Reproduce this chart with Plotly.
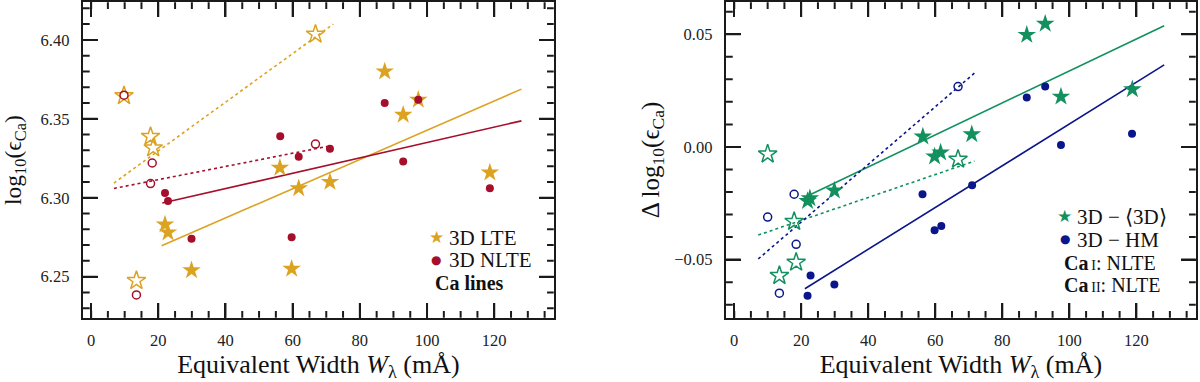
import plotly.graph_objects as go
from plotly.subplots import make_subplots

# ---------------- data ----------------
# Left panel: absolute abundances
lte_fill_x = [22.0, 22.9, 29.9, 56.2, 61.8, 59.7, 71.1, 87.4, 92.9, 97.4, 118.7]
lte_fill_y = [6.283, 6.278, 6.254, 6.319, 6.306, 6.255, 6.310, 6.380, 6.3525, 6.362, 6.316]
lte_open_x = [9.8, 17.7, 18.5, 13.5, 66.8]
lte_open_y = [6.3646, 6.3388, 6.3315, 6.2475, 6.4036]

nlte_fill_x = [22.0, 22.9, 29.9, 56.3, 61.8, 59.7, 71.1, 87.4, 92.9, 97.4, 118.7]
nlte_fill_y = [6.303, 6.298, 6.274, 6.339, 6.326, 6.275, 6.331, 6.360, 6.323, 6.362, 6.306]
nlte_open_x = [9.8, 18.2, 17.7, 13.5, 66.8]
nlte_open_y = [6.365, 6.322, 6.309, 6.2384, 6.334]

# fit lines (endpoints)
lte_fit_x = [21.0, 128.1]
lte_fit_y = [6.2696, 6.3688]
nlte_fit_x = [21.2, 128.1]
nlte_fit_y = [6.2966, 6.3487]
lte_dfit_x = [6.8, 72.1]
lte_dfit_y = [6.3093, 6.410]
nlte_dfit_x = [6.8, 70.3]
nlte_dfit_y = [6.3059, 6.3325]

# Right panel: abundance differences
d3d_fill_x = [21.9, 22.6, 29.9, 56.3, 59.8, 61.6, 70.9, 87.3, 92.8, 97.5, 118.8]
d3d_fill_y = [-0.0240, -0.0228, -0.0194, 0.0046, -0.0043, -0.0025, 0.0056, 0.0497, 0.0546, 0.0223, 0.0256]
d3d_open_x = [10.0, 17.9, 18.5, 13.5, 66.8]
d3d_open_y = [-0.0032, -0.0331, -0.0512, -0.0571, -0.0055]

dhm_fill_x = [21.9, 22.8, 29.9, 56.2, 59.8, 61.8, 71.0, 87.3, 92.8, 97.5, 118.7]
dhm_fill_y = [-0.0660, -0.0570, -0.0610, -0.0210, -0.0370, -0.0351, -0.0170, 0.0219, 0.0268, 0.0009, 0.0059]
dhm_open_x = [10.0, 17.9, 18.5, 13.5, 66.8]
dhm_open_y = [-0.0311, -0.0210, -0.0432, -0.0649, 0.0268]

d3d_fit_x = [21.4, 128.3]
d3d_fit_y = [-0.0221, 0.0538]
dhm_fit_x = [21.1, 128.3]
dhm_fit_y = [-0.0629, 0.0364]
d3d_dfit_x = [7.2, 71.7]
d3d_dfit_y = [-0.0391, -0.0063]
dhm_dfit_x = [7.2, 72.2]
dhm_dfit_y = [-0.0497, 0.0334]

xticks = [0, 20, 40, 60, 80, 100, 120]
x_minor = [0, 5, 10, 15, 25, 30, 35, 45, 50, 55, 65, 70, 75, 85, 90, 95,
           105, 110, 115, 125, 130, 135]
left_yticks = [6.25, 6.30, 6.35, 6.40]
left_yticklabels = ["6.25", "6.30", "6.35", "6.40"]
left_y_minor = [6.23, 6.24, 6.26, 6.27, 6.28, 6.29, 6.31, 6.32, 6.33, 6.34,
                6.36, 6.37, 6.38, 6.39, 6.41, 6.42]
right_yticks = [-0.05, 0.00, 0.05]
right_yticklabels = ["\u22120.05", "0.00", "0.05"]
right_y_minor = [-0.07, -0.06, -0.04, -0.03, -0.02, -0.01, 0.01, 0.02, 0.03, 0.04, 0.06]

# ---------------- style ----------------
GOLD = "#DCA323"
RED = "#A60F2C"
GREEN = "#12915F"
NAVY = "#0B168A"
FONT = "Liberation Serif"
AX = "#1a1a1a"
STAR = 14
DOT = 8
PLOT_H = 316.0
PANEL_W = 471.0
MAJ = 15
MIN = 7
XR = [-2.5, 137.8]
LEFT_YR = [6.2238, 6.4240]
RIGHT_YR = [-0.0759, 0.0643]

fig = make_subplots(rows=1, cols=2)


def add_ticks(col, yr, majors_y, minors_y):
    """Inside tick marks on all four sides, drawn as line segments in data units."""
    dx = (XR[1] - XR[0]) / PANEL_W
    dy = (yr[1] - yr[0]) / PLOT_H
    x_ins = XR[0] + 0.3 * dx
    x_ins2 = XR[1] - 0.3 * dx
    y_ins = yr[0] + 0.3 * dy
    y_ins2 = yr[1] - 0.3 * dy
    tx, ty = [], []
    for v in xticks + x_minor:
        L = MAJ if (v in xticks and v != 0) else MIN
        tx += [v, v, None, v, v, None]
        ty += [y_ins, yr[0] + L * dy, None, y_ins2, yr[1] - L * dy, None]
    for v in majors_y + minors_y:
        L = MAJ if v in majors_y else MIN
        tx += [x_ins, XR[0] + L * dx, None, x_ins2, XR[1] - L * dx, None]
        ty += [v, v, None, v, v, None]
    fig.add_trace(go.Scatter(x=tx, y=ty, mode="lines", line=dict(color=AX, width=2),
                             showlegend=False, hoverinfo="skip", connectgaps=False),
                  row=1, col=col)


def add_panel(col, fits, series):
    for (fx, fy, color, dash) in fits:
        fig.add_trace(go.Scatter(x=fx, y=fy, mode="lines",
                                 line=dict(color=color, width=1.6, dash=dash),
                                 showlegend=False, hoverinfo="skip"),
                      row=1, col=col)
    for (sx, sy, color, symbol, size, is_open) in series:
        if is_open:
            marker = dict(symbol=symbol + "-open", size=size, color=color,
                          line=dict(color=color, width=1.5))
        else:
            marker = dict(symbol=symbol, size=size, color=color,
                          line=dict(width=0))
        fig.add_trace(go.Scatter(x=sx, y=sy, mode="markers", marker=marker,
                                 showlegend=False),
                      row=1, col=col)


add_panel(1,
          [(lte_fit_x, lte_fit_y, GOLD, "solid"),
           (nlte_fit_x, nlte_fit_y, RED, "solid"),
           (lte_dfit_x, lte_dfit_y, GOLD, "dot"),
           (nlte_dfit_x, nlte_dfit_y, RED, "dot")],
          [(lte_fill_x, lte_fill_y, GOLD, "star", STAR, False),
           (lte_open_x, lte_open_y, GOLD, "star", STAR, True),
           (nlte_fill_x, nlte_fill_y, RED, "circle", DOT, False),
           (nlte_open_x, nlte_open_y, RED, "circle", DOT, True)])

add_panel(2,
          [(d3d_fit_x, d3d_fit_y, GREEN, "solid"),
           (dhm_fit_x, dhm_fit_y, NAVY, "solid"),
           (d3d_dfit_x, d3d_dfit_y, GREEN, "dot"),
           (dhm_dfit_x, dhm_dfit_y, NAVY, "dot")],
          [(d3d_fill_x, d3d_fill_y, GREEN, "star", STAR, False),
           (d3d_open_x, d3d_open_y, GREEN, "star", STAR, True),
           (dhm_fill_x, dhm_fill_y, NAVY, "circle", DOT, False),
           (dhm_open_x, dhm_open_y, NAVY, "circle", DOT, True)])

add_ticks(1, LEFT_YR, left_yticks, left_y_minor)
add_ticks(2, RIGHT_YR, right_yticks, right_y_minor)

xtitle = "Equivalent Width <i>W</i><sub>\u03bb</sub> (m\u00c5)"
tickfont = dict(family=FONT, size=16.5, color="#222222")


def xaxis_spec(domain):
    return dict(domain=domain, range=XR, tickmode="array", tickvals=xticks,
                ticks="inside", ticklen=MAJ, tickwidth=2, tickcolor=AX,
                ticklabelstandoff=6,
                showline=True, linecolor=AX, linewidth=2, mirror="allticks",
                showgrid=False, zeroline=False, tickfont=tickfont,
                title=dict(text=xtitle, font=dict(family=FONT, size=26, color="#111111"),
                           standoff=4))


def yaxis_spec(rng, vals, labels, title, size, standoff):
    return dict(domain=[0, 1], range=rng, tickmode="array", tickvals=vals, ticktext=labels,
                ticks="inside", ticklen=MAJ, tickwidth=2, tickcolor=AX,
                ticklabelstandoff=8,
                showline=True, linecolor=AX, linewidth=2, mirror="allticks",
                showgrid=False, zeroline=False, tickfont=tickfont,
                title=dict(text=title, font=dict(family=FONT, size=size, color="#111111"),
                           standoff=standoff))


fig.update_layout(
    xaxis=xaxis_spec([0.0689, 0.4617]),
    xaxis2=xaxis_spec([0.6048, 0.9967]),
    yaxis=yaxis_spec(LEFT_YR, left_yticks, left_yticklabels,
                     "log<sub>10</sub>(\u03f5<sub>Ca</sub>)", 23.5, 12),
    yaxis2=yaxis_spec(RIGHT_YR, right_yticks, right_yticklabels,
                      "\u0394 log<sub>10</sub>(\u03f5<sub>Ca</sub>)", 25, 8),
    width=1200, height=382,
    margin=dict(l=0, r=0, t=2, b=64, autoexpand=False),
    plot_bgcolor="white", paper_bgcolor="white",
    font=dict(family=FONT, color="#111111"),
    showlegend=False,
)

# legend-like labels (inside each panel)
LEG = 21


def label(x, y, text, size=LEG):
    fig.add_annotation(x=x, y=y, xref="paper", yref="paper", xanchor="left",
                       yanchor="middle", showarrow=False, text=text,
                       font=dict(family=FONT, size=size, color="#111111"))


def sym(x, y, color, glyph, size):
    fig.add_annotation(x=x, y=y, xref="paper", yref="paper", xanchor="center",
                       yanchor="middle", showarrow=False, text=glyph,
                       font=dict(family="DejaVu Sans", size=size, color=color))


def py(Y):
    return (318 - Y) / PLOT_H


sym(436 / 1200, py(237), GOLD, "\u2605", 17)
label(447 / 1200, py(238), "3D LTE")
sym(436 / 1200, py(260), RED, "\u25cf", 12)
label(447 / 1200, py(260), "3D NLTE")
label(433 / 1200, py(283), "<b>Ca lines</b>", 20)

sym(1064 / 1200, py(216), GREEN, "\u2605", 17)
label(1075 / 1200, py(217), "3D \u2212 \u27e83D\u27e9")
sym(1065 / 1200, py(239), NAVY, "\u25cf", 12)
label(1075 / 1200, py(240), "3D \u2212 HM")
label(1062 / 1200, py(263),
      "<b>Ca</b><span style='font-size:14px'>\u2009I</span>: NLTE", 20)
label(1062 / 1200, py(285),
      "<b>Ca</b><span style='font-size:14px'>\u2009II</span>: NLTE", 20)

fig.write_html("out.html", config={"displayModeBar": False},
               post_script="document.body.style.margin='0';document.body.style.overflow='hidden';")
